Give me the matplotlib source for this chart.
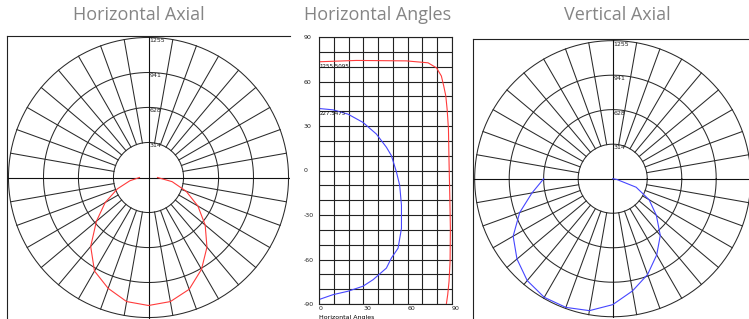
import numpy as np
import matplotlib
matplotlib.use("Agg")
import matplotlib.pyplot as plt

plt.rcParams["axes.unicode_minus"] = False

W, H = 749, 319

# polar grid rings (cd)
rings = [314, 628, 941, 1255]
ring_labels = ["314", "628", "941", "1255"]

# Horizontal Axial (red) - angle from nadir (deg, + to the right), candela
ha_angles = [-90, -80, -70, -60, -50, -40, -30, -20, -10, 0, 10, 20, 30, 40, 50, 60, 70, 80, 90]
ha_cd = [81, 170, 296, 448, 609, 806, 968, 1057, 1129, 1147, 1129, 1066, 950, 815, 663, 511, 358, 215, 81]

# Vertical Axial (blue)
va_angles = [-90, -80, -70, -60, -50, -40, -30, -20, -10, 0, 10, 20, 30, 40, 50, 60, 70, 80, 90]
va_cd = [627, 745, 900, 1045, 1136, 1209, 1245, 1245, 1218, 1145, 1036, 927, 800, 673, 518, 382, 227, 36, 0]

# Horizontal Angles (middle) - x = horizontal angle, y = vertical angle
red_y = [73.3, 74.2, 73.9, 72.6, 69.2, 63.7, 57, 50.3, 41.3, 28, 5.6, -16.7, -39, -61.3, -74.7, -83.7, -89.9]
red_x = [0, 25.3, 59.1, 73.8, 79.5, 82.8, 84.4, 85.8, 86.7, 87.6, 88, 88.5, 88.9, 88.7, 88, 87.1, 86.2]
blue_y = [41.8, 40.9, 38, 32.4, 24.6, 15.7, 10, -1, -10, -23.4, -39, -52.4, -59, -65.8, -73.6, -78, -81.4, -83.7, -87]
blue_x = [0, 9.5, 19.6, 29.8, 38.8, 45.6, 49, 52.4, 54.6, 55.8, 55.8, 53.5, 49, 45.6, 36.6, 29.8, 19.6, 9.5, 0]
red_label = "1255.5095"
blue_label = "227.5475"

GRID = "#2a2a2a"
TITLE_C = "#858585"


def polar_grid(ax, lim):
    t = np.linspace(0, 2 * np.pi, 400)
    for r in rings:
        ax.plot(r * np.cos(t), r * np.sin(t), color=GRID, lw=0.75)
    for a in range(10, 360, 10):
        if a % 90 == 0:
            continue
        th = np.radians(a)
        ax.plot([rings[0] * np.cos(th), rings[-1] * np.cos(th)],
                [rings[0] * np.sin(th), rings[-1] * np.sin(th)], color=GRID, lw=0.75)
    ax.axhline(0, color="#111111", lw=0.8)
    ax.axvline(0, color="#111111", lw=0.8)
    for r, lab in zip(rings, ring_labels):
        ax.text(lim * 0.008, r - 8, lab, fontsize=4.5, ha="left", va="top", color="#222222")
    ax.set_xlim(-lim, lim)
    ax.set_ylim(-lim, lim)
    ax.set_xticks([])
    ax.set_yticks([])
    for s in ["right", "bottom"]:
        ax.spines[s].set_visible(False)
    for s in ["left", "top"]:
        ax.spines[s].set_color("#222222")
        ax.spines[s].set_linewidth(0.8)


def polar_curve(ax, angles, cd, color):
    th = np.radians(angles)
    x = np.array(cd) * np.sin(th)
    y = -np.array(cd) * np.cos(th)
    ax.plot(x, y, color=color, lw=0.8)


fig = plt.figure(figsize=(W / 100, H / 100), dpi=100)

# left polar
ax1 = fig.add_axes([7 / W, 0 / H, 283 / W, 283 / H])
polar_grid(ax1, 1268)
polar_curve(ax1, ha_angles, ha_cd, "#ff3b3b")

# right polar
ax3 = fig.add_axes([473 / W, 0.6 / H, 279.4 / W, 279.4 / H])
polar_grid(ax3, 1270)
polar_curve(ax3, va_angles, va_cd, "#4646ff")

# middle rectangular
ax2 = fig.add_axes([319 / W, 15 / H, 133 / W, 267 / H])
ax2.set_xlim(0, 90)
ax2.set_ylim(-90, 90)
for v in range(0, 91, 10):
    ax2.axvline(v, color="#222222", lw=0.8)
for v in range(-90, 91, 10):
    ax2.axhline(v, color="#222222", lw=0.8)
ax2.plot(red_x, red_y, color="#ff3b3b", lw=0.8)
ax2.plot(blue_x, blue_y, color="#4646ff", lw=0.8)
ax2.text(0.5, red_y[0] - 1.5, red_label, fontsize=4, ha="left", va="top", color="#111111")
ax2.text(0.5, blue_y[0] - 1.5, blue_label, fontsize=4, ha="left", va="top", color="#111111")
ax2.set_xticks([0, 30, 60, 90])
ax2.set_yticks([-90, -60, -30, 0, 30, 60, 90])
ax2.tick_params(length=0, labelsize=4.5, colors="#222222")
ax2.tick_params(axis="y", pad=10.8)
for lab in ax2.get_yticklabels():
    lab.set_horizontalalignment("left")
for lab in ax2.get_xticklabels():
    lab.set_horizontalalignment("left")
ax2.tick_params(axis="x", pad=1.5)
ax2.set_xlabel("Horizontal Angles", fontsize=4.5, loc="left", labelpad=3)
for s in ax2.spines.values():
    s.set_color("#222222")
    s.set_linewidth(0.8)

# titles
fig.text(139 / W, 1 - 15 / H, "Horizontal Axial", fontsize=13, color=TITLE_C,
         family="Open Sans", ha="center", va="center")
fig.text(378 / W, 1 - 15 / H, "Horizontal Angles", fontsize=13, color=TITLE_C,
         family="Open Sans", ha="center", va="center")
fig.text(617 / W, 1 - 15 / H, "Vertical Axial", fontsize=13, color=TITLE_C,
         family="Open Sans", ha="center", va="center")

fig.savefig("out.png", dpi=100)
